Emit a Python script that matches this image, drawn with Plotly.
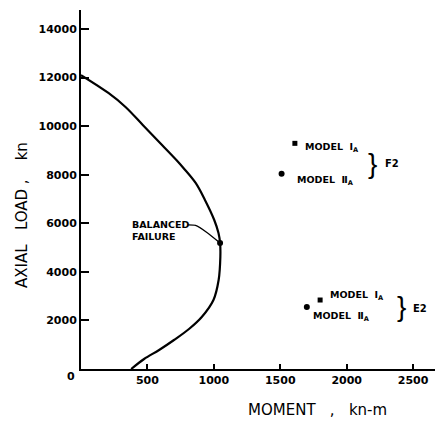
import plotly.graph_objects as go

# Interaction curve (moment kN-m, axial load kN)
curve_moment = [0, 206, 335, 465, 588, 718, 771, 863, 933, 1003, 1035, 1047,
                1049, 1036, 997, 909, 813, 700, 588, 475, 378]
curve_load = [12100, 11365, 10788, 10047, 9347, 8606, 8277, 7659, 6959, 6135,
              5600, 5190, 4612, 3665, 2841, 2141, 1647, 1194, 782, 412, 0]

balanced_moment = [1047]
balanced_load = [5190]

# leader line from the "BALANCED FAILURE" label to the balanced point
leader_moment = [802, 862, 953, 1040]
leader_load = [5930, 5909, 5600, 5215]

# test points
groups = ["F2", "E2"]
model1_moment = [1610, 1800]
model1_load = [9290, 2840]
model2_moment = [1510, 1700]
model2_load = [8040, 2550]

x_ticks = [500, 1000, 1500, 2000, 2500]
y_ticks = [2000, 4000, 6000, 8000, 10000, 12000, 14000]
origin_label = "0"

fig = go.Figure()

fig.add_trace(go.Scatter(
    x=curve_moment, y=curve_load, mode="lines",
    line=dict(color="black", width=2.2, shape="spline", smoothing=1.0),
    hoverinfo="skip", showlegend=False))

fig.add_trace(go.Scatter(
    x=leader_moment, y=leader_load, mode="lines",
    line=dict(color="black", width=1.3, shape="spline", smoothing=0.6),
    hoverinfo="skip", showlegend=False))

fig.add_trace(go.Scatter(
    x=balanced_moment, y=balanced_load, mode="markers",
    marker=dict(color="black", size=6, symbol="circle"),
    showlegend=False))

fig.add_trace(go.Scatter(
    x=model1_moment, y=model1_load, mode="markers",
    marker=dict(color="black", size=5, symbol="square"),
    showlegend=False))

fig.add_trace(go.Scatter(
    x=model2_moment, y=model2_load, mode="markers",
    marker=dict(color="black", size=6, symbol="circle"),
    showlegend=False))

lab_font = dict(family="DejaVu Sans", size=9.5, color="black", weight="bold")

# balanced failure label
fig.add_annotation(x=balanced_moment[0], y=balanced_load[0],
                   text="BALANCED<br>FAILURE", showarrow=False,
                   xanchor="left", yanchor="middle", align="left",
                   xshift=-90, yshift=12, font=lab_font)

# model labels
m1_shift = [(8, -4), (8, 5)]
m2_shift = [(13, -7), (4, -9)]
brace_shift = [(78, -20), (81, -6)]
grp_shift = [(97, -20), (100, -8)]
for i, g in enumerate(groups):
    fig.add_annotation(x=model1_moment[i], y=model1_load[i],
                       text="MODEL  Ⅰ<sub>A</sub>", showarrow=False,
                       xanchor="left", yanchor="middle",
                       xshift=m1_shift[i][0], yshift=m1_shift[i][1], font=lab_font)
    fig.add_annotation(x=model2_moment[i], y=model2_load[i],
                       text="MODEL  Ⅱ<sub>A</sub>", showarrow=False,
                       xanchor="left", yanchor="middle",
                       xshift=m2_shift[i][0], yshift=m2_shift[i][1], font=lab_font)
    fig.add_annotation(x=model1_moment[i], y=model1_load[i],
                       text="}", showarrow=False,
                       xanchor="center", yanchor="middle",
                       xshift=brace_shift[i][0], yshift=brace_shift[i][1],
                       font=dict(family="Liberation Sans", size=28, color="black"))
    fig.add_annotation(x=model1_moment[i], y=model1_load[i],
                       text=g, showarrow=False,
                       xanchor="center", yanchor="middle",
                       xshift=grp_shift[i][0], yshift=grp_shift[i][1],
                       font=dict(family="DejaVu Sans", size=10, color="black", weight="bold"))

# origin label
fig.add_annotation(x=0, y=0, text=origin_label, showarrow=False,
                   xanchor="center", yanchor="middle", xshift=-10, yshift=-7,
                   font=dict(family="DejaVu Sans", size=11, color="black", weight="bold"))

# axis titles
fig.add_annotation(xref="paper", yref="paper", x=-0.163, y=0.429,
                   text="AXIAL\u00a0\u00a0\u00a0LOAD\u00a0,\u00a0\u00a0\u00a0\u00a0kn",
                   textangle=-90, showarrow=False, xanchor="center", yanchor="middle",
                   font=dict(family="DejaVu Sans", size=15, color="black"))
fig.add_annotation(xref="paper", yref="paper", x=0.652, y=-0.114,
                   text="MOMENT\u00a0\u00a0\u00a0,\u00a0\u00a0\u00a0kn-m",
                   showarrow=False, xanchor="center", yanchor="middle",
                   font=dict(family="DejaVu Sans", size=15, color="black"))

tick_font = dict(family="DejaVu Sans", size=11, color="black", weight="bold")

fig.update_xaxes(range=[0, 2725], tickvals=x_ticks, ticktext=[str(v) for v in x_ticks],
                 ticks="inside", ticklen=5, tickwidth=1.5, tickcolor="black",
                 showline=True, linewidth=2, linecolor="black", automargin=False,
                 showgrid=False, zeroline=False, tickfont=tick_font)
fig.update_yaxes(range=[0, 14780], tickvals=y_ticks, ticktext=[str(v) for v in y_ticks],
                 ticks="inside", ticklen=8, tickwidth=1.5, tickcolor="black",
                 showline=True, linewidth=2, linecolor="black", automargin=False,
                 showgrid=False, zeroline=False, tickfont=tick_font)

# the page adds an 8px body margin, so the figure is sized to compensate
fig.update_layout(width=435, height=418,
                  margin=dict(l=73, r=0, t=2, b=57, autoexpand=False),
                  paper_bgcolor="white", plot_bgcolor="white",
                  showlegend=False)

fig.write_html("out.html")
